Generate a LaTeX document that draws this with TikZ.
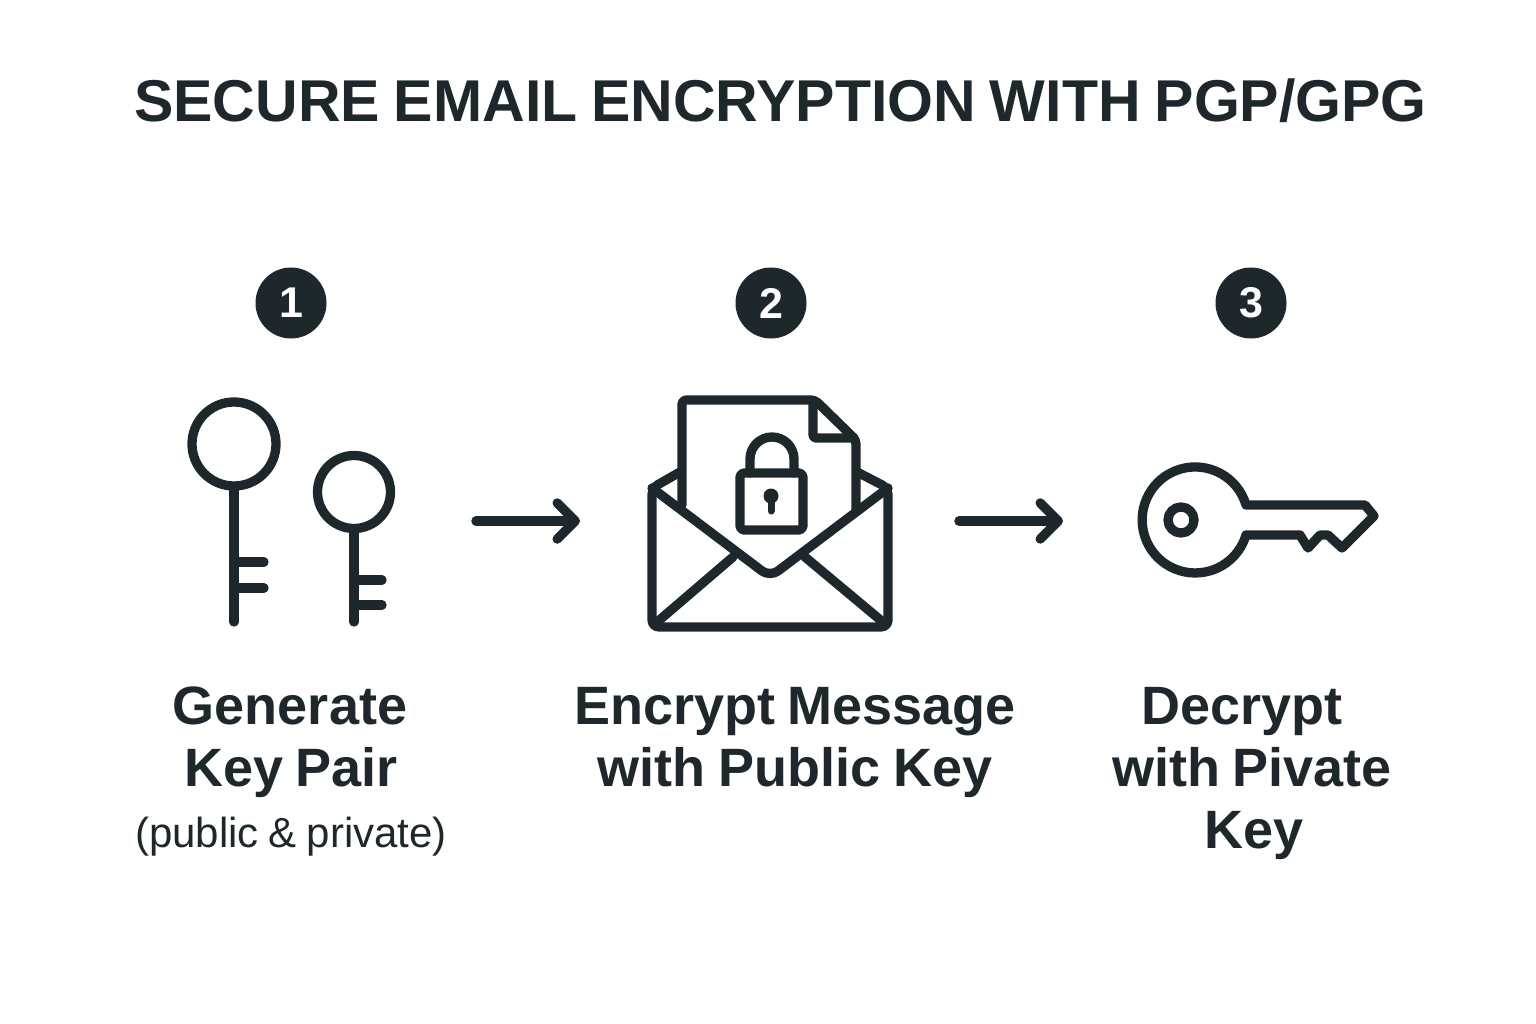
\documentclass[tikz,border=0pt]{standalone}
\usepackage{fontspec}
\usepackage{xcolor}
\usepackage{tikz}
\usetikzlibrary{arrows.meta,positioning}
\setmainfont[WordSpace=0.85]{Liberation Sans}
\definecolor{ink}{HTML}{1E282C}
\tikzset{
  base/.style={draw=ink, line width=9.3pt, line cap=round, line join=round},
  flow/.style={draw=ink, line width=9.5pt, line cap=round, line join=round, -{Straight Barb[round, length=18pt, width=36pt]}},
  badge/.style={circle, fill=ink, text=white, minimum size=71pt, inner sep=0pt, font=\fontsize{43}{43}\selectfont\bfseries},
  lab/.style={text=ink, inner sep=0pt, anchor=base, font=\fontsize{54}{54}\selectfont\bfseries},
  labm/.style={text=ink, inner sep=0pt, anchor=base, font=\fontsize{42}{42}\selectfont},
}
\begin{document}
\begin{tikzpicture}[x=1pt,y=-1pt]
\useasboundingbox (0,0) rectangle (1536,1024);
\node[text=ink, inner sep=0pt, anchor=base, font=\fontsize{59}{59}\selectfont\bfseries] (title) at (780.5,122) {SECURE EMAIL ENCRYPTION WITH PGP/GPG};
% numbers
\foreach \n/\x in {1/291,2/771,3/1251}{
  \node[badge] (num\n) at (\x,303) {\n};
}
% step 1, two keys
\draw[base] (234,444) circle[radius=42];
\draw[base] (234,488) -- (234,622);
\foreach \y in {562,588}{
  \draw[base] (238,\y) -- (264,\y);
}
\draw[base] (354,492) circle[radius=36.5];
\draw[base] (354,530) -- (354,622);
\foreach \y in {580,605}{
  \draw[base] (358,\y) -- (382,\y);
}
% step 2, envelope
\draw[base, rounded corners=4pt] (682,505) -- (682,400) -- (815,400) -- (856,440) -- (856,512);
\draw[base, rounded corners=3pt] (813,402) -- (813,438) -- (854,438);
\draw[base, rounded corners=7pt] (680,472) -- (652,488) -- (652,627) -- (888,627) -- (888,488) -- (857,472);
\draw[base, rounded corners=10pt] (652,488) -- (770,577) -- (888,488);
\draw[base] (733,557) -- (656,623);
\draw[base] (805,557) -- (884,623);
\draw[base, rounded corners=4pt] (740,473) rectangle (803,530);
\draw[base] (750,473) -- (750,459) arc[start angle=-180, end angle=0, radius=22] -- (794,473);
\fill[ink] (771,496) circle[radius=7.5];
\draw[ink, line width=7pt, line cap=round] (771,496) -- (771,511);
% step 3, key
\draw[base] (1246,505) arc[start angle=-16.4, end angle=-343.6, radius=53] -- (1300,535) -- (1308,548) -- (1320,535) -- (1328,535) -- (1342,548) -- (1374,516) -- (1365,505) -- cycle;
\draw[base] (1181,520) circle[radius=13];
% arrows
\coordinate (a1) at (476,521);
\coordinate (b1) at (580,521);
\coordinate (a2) at (959,521);
\coordinate (b2) at (1063,521);
\draw[flow] (a1) -- (b1);
\draw[flow] (a2) -- (b2);
% labels
\node[lab] (gen1) at (290,724) {Generate};
\node[lab] (gen2) at (291,786) {Key Pair};
\node[labm] (gen3) at (291,847) {(public \& private)};
\node[lab] (enc1) at (795,724) {Encrypt Message};
\node[lab] (enc2) at (795,786) {with Public Key};
\node[lab] (dec1) at (1242,724) {Decrypt};
\node[lab] (dec2) at (1252,786) {with Pivate};
\node[lab] (dec3) at (1254,848) {Key};
\end{tikzpicture}
\end{document}
